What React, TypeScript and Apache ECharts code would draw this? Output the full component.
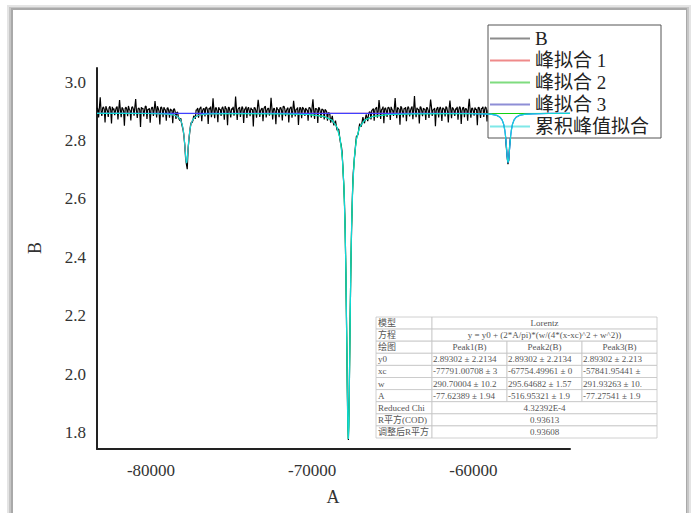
import React, { useEffect, useRef } from 'react';
import * as echarts from 'echarts';

// ---- raw data (B vs A): bValues at xStart + i*xStep, bMidValues half a step later ----
const xStart = -83350;
const xStep = 100;
const bValues = [
  2.912, 2.879, 2.948, 2.884, 2.915, 2.862, 2.909, 2.881, 2.917, 2.858,
  2.905, 2.887, 2.913, 2.872, 2.938, 2.880, 2.910, 2.851, 2.914, 2.883,
  2.907, 2.869, 2.916, 2.885, 2.942, 2.877, 2.911, 2.846, 2.908, 2.882,
  2.918, 2.874, 2.906, 2.861, 2.913, 2.884, 2.935, 2.879, 2.910, 2.855,
  2.915, 2.880, 2.908, 2.868, 2.912, 2.878, 2.904, 2.859, 2.909, 2.874,
  2.897, 2.872, 2.876, 2.846, 2.812, 2.738, 2.702, 2.800, 2.851, 2.861,
  2.884, 2.874, 2.905, 2.878, 2.911, 2.866, 2.909, 2.882, 2.914, 2.857,
  2.908, 2.880, 2.944, 2.876, 2.912, 2.863, 2.906, 2.884, 2.915, 2.871,
  2.910, 2.852, 2.913, 2.879, 2.907, 2.885, 2.950, 2.870, 2.911, 2.881,
  2.916, 2.860, 2.909, 2.877, 2.914, 2.883, 2.906, 2.848, 2.912, 2.878,
  2.939, 2.881, 2.908, 2.866, 2.915, 2.879, 2.910, 2.885, 2.946, 2.872,
  2.911, 2.856, 2.907, 2.880, 2.913, 2.869, 2.917, 2.883, 2.909, 2.862,
  2.912, 2.878, 2.936, 2.882, 2.908, 2.853, 2.914, 2.876, 2.910, 2.884,
  2.905, 2.868, 2.913, 2.879, 2.941, 2.874, 2.909, 2.860, 2.911, 2.877,
  2.906, 2.872, 2.903, 2.868, 2.895, 2.861, 2.884, 2.852, 2.868, 2.835,
  2.838, 2.794, 2.765, 2.662, 2.495, 2.098, 1.776, 2.160, 2.502, 2.690,
  2.755, 2.815, 2.822, 2.858, 2.848, 2.880, 2.859, 2.889, 2.866, 2.898,
  2.872, 2.905, 2.868, 2.910, 2.878, 2.938, 2.874, 2.908, 2.859, 2.912,
  2.881, 2.914, 2.870, 2.907, 2.884, 2.945, 2.876, 2.910, 2.854, 2.913,
  2.879, 2.909, 2.866, 2.916, 2.882, 2.911, 2.873, 2.952, 2.880, 2.907,
  2.858, 2.914, 2.883, 2.908, 2.870, 2.912, 2.877, 2.940, 2.884, 2.906,
  2.849, 2.911, 2.879, 2.915, 2.867, 2.909, 2.882, 2.913, 2.862, 2.937,
  2.876, 2.910, 2.884, 2.907, 2.871, 2.916, 2.857, 2.912, 2.880, 2.909,
  2.868, 2.943, 2.878, 2.911, 2.885, 2.906, 2.852, 2.914, 2.877, 2.910,
  2.881, 2.915, 2.865, 2.908, 2.879, 2.912, 2.870, 2.905, 2.874, 2.898,
  2.871, 2.880, 2.852, 2.841, 2.776, 2.719, 2.779, 2.826, 2.866, 2.864,
  2.889, 2.872, 2.910, 2.866, 2.913, 2.880, 2.907, 2.858, 2.911, 2.883,
  2.916, 2.869, 2.909, 2.877, 2.939, 2.882, 2.908, 2.861, 2.912, 2.879,
  2.906, 2.873, 2.914, 2.884, 2.910, 2.856, 2.913, 2.878, 2.907, 2.867,
  2.911, 2.881, 2.909, 2.876,
];
const bMidValues = [
  2.908, 2.914, 2.903, 2.911, 2.906, 2.917, 2.901, 2.912, 2.905, 2.915,
  2.909, 2.902, 2.916, 2.907, 2.904, 2.913, 2.900, 2.910, 2.906, 2.918,
  2.903, 2.912, 2.908, 2.915, 2.901, 2.909, 2.905, 2.914, 2.911, 2.902,
  2.916, 2.907, 2.910, 2.904, 2.913, 2.906, 2.909, 2.917, 2.900, 2.912,
  2.905, 2.914, 2.903, 2.910, 2.901, 2.908, 2.904, 2.906, 2.899, 2.896,
  2.880, 2.868, 2.858, 2.834, 2.781, 2.718, 2.768, 2.826, 2.862, 2.868,
  2.883, 2.904, 2.911, 2.906, 2.915, 2.902, 2.909, 2.913, 2.905, 2.910,
  2.916, 2.903, 2.908, 2.912, 2.901, 2.914, 2.907, 2.910, 2.904, 2.917,
  2.906, 2.913, 2.900, 2.909, 2.915, 2.903, 2.911, 2.907, 2.914, 2.902,
  2.910, 2.905, 2.916, 2.908, 2.901, 2.912, 2.906, 2.913, 2.904, 2.909,
  2.915, 2.902, 2.911, 2.907, 2.917, 2.903, 2.910, 2.905, 2.913, 2.908,
  2.900, 2.914, 2.906, 2.911, 2.904, 2.916, 2.909, 2.902, 2.912, 2.907,
  2.915, 2.903, 2.910, 2.906, 2.913, 2.901, 2.908, 2.914, 2.905, 2.911,
  2.904, 2.912, 2.907, 2.915, 2.902, 2.909, 2.906, 2.913, 2.900, 2.908,
  2.903, 2.906, 2.898, 2.895, 2.889, 2.872, 2.864, 2.861, 2.849, 2.839,
  2.815, 2.786, 2.718, 2.600, 2.322, 1.872, 1.918, 2.358, 2.615, 2.725,
  2.789, 2.815, 2.842, 2.849, 2.864, 2.866, 2.875, 2.879, 2.890, 2.897,
  2.903, 2.909, 2.906, 2.914, 2.901, 2.911, 2.905, 2.916, 2.908, 2.902,
  2.912, 2.907, 2.915, 2.903, 2.910, 2.904, 2.913, 2.906, 2.917, 2.900,
  2.909, 2.914, 2.905, 2.911, 2.902, 2.916, 2.908, 2.904, 2.912, 2.907,
  2.915, 2.901, 2.910, 2.906, 2.913, 2.903, 2.909, 2.917, 2.905, 2.911,
  2.902, 2.914, 2.908, 2.904, 2.912, 2.906, 2.916, 2.900, 2.910, 2.907,
  2.913, 2.903, 2.909, 2.915, 2.905, 2.911, 2.902, 2.914, 2.908, 2.904,
  2.916, 2.906, 2.910, 2.901, 2.913, 2.907, 2.912, 2.903, 2.909, 2.915,
  2.905, 2.911, 2.902, 2.908, 2.914, 2.904, 2.906, 2.899, 2.895, 2.890,
  2.877, 2.866, 2.855, 2.812, 2.744, 2.733, 2.809, 2.845, 2.870, 2.873,
  2.884, 2.903, 2.910, 2.906, 2.914, 2.901, 2.912, 2.907, 2.915, 2.904,
  2.909, 2.913, 2.902, 2.911, 2.906, 2.916, 2.903, 2.910, 2.908, 2.914,
  2.900, 2.912, 2.905, 2.909, 2.915, 2.903, 2.911, 2.906, 2.913, 2.907,
  2.910, 2.904, 2.912,
];

// ---- fitted curves, sampled at offsets around each peak centre ----
const peakCenters = [-77791.00708, -67754.49961, -57841.95441];
const fitOffsets = [-4000, -2500, -1500, -1000, -700, -500, -375, -275, -200, -150, -100, -60, -30, 0,
  30, 60, 100, 150, 200, 275, 375, 500, 700, 1000, 1500, 2500, 4000];
const peak1Fit = [2.8928, 2.8925, 2.8914, 2.8895, 2.8860, 2.8798, 2.8708, 2.8559, 2.8342, 2.8107, 2.7776, 2.7478, 2.7299, 2.7230,
  2.7299, 2.7478, 2.7776, 2.8107, 2.8342, 2.8559, 2.8708, 2.8798, 2.8860, 2.8895, 2.8914, 2.8925, 2.8928];
const peak2Fit = [2.8915, 2.8891, 2.8823, 2.8692, 2.8455, 2.8035, 2.7433, 2.6435, 2.4997, 2.3445, 2.1293, 1.9373, 1.8239, 1.7798,
  1.8239, 1.9373, 2.1293, 2.3445, 2.4997, 2.6435, 2.7433, 2.8035, 2.8455, 2.8692, 2.8823, 2.8891, 2.8915];
const peak3Fit = [2.8928, 2.8925, 2.8914, 2.8895, 2.8860, 2.8798, 2.8708, 2.8560, 2.8344, 2.8110, 2.7783, 2.7488, 2.7313, 2.7245,
  2.7313, 2.7488, 2.7783, 2.8110, 2.8344, 2.8560, 2.8708, 2.8798, 2.8860, 2.8895, 2.8914, 2.8925, 2.8928];
const cumFit1 = [2.8927, 2.8924, 2.8912, 2.8893, 2.8857, 2.8795, 2.8706, 2.8557, 2.8340, 2.8105, 2.7774, 2.7476, 2.7297, 2.7228,
  2.7297, 2.7476, 2.7774, 2.8105, 2.8339, 2.8556, 2.8705, 2.8794, 2.8856, 2.8891, 2.8911, 2.8921, 2.8921];
const cumFit2 = [2.8914, 2.8890, 2.8822, 2.8691, 2.8454, 2.8034, 2.7432, 2.6434, 2.4996, 2.3444, 2.1292, 1.9372, 1.8238, 1.7797,
  1.8238, 1.9372, 2.1292, 2.3444, 2.4996, 2.6434, 2.7432, 2.8034, 2.8454, 2.8691, 2.8822, 2.8890, 2.8914];
const cumFit3 = [2.8921, 2.8921, 2.8911, 2.8891, 2.8857, 2.8795, 2.8705, 2.8557, 2.8341, 2.8107, 2.7780, 2.7485, 2.7310, 2.7242,
  2.7310, 2.7485, 2.7781, 2.8108, 2.8342, 2.8558, 2.8706, 2.8796, 2.8858, 2.8893, 2.8912, 2.8924, 2.8927];
const fitEnds = [[2.8930, 2.8930], [2.8929, 2.8929], [2.8930, 2.8928], [2.8928, 2.8926]];

// ---- axes ----
const xMin = -83350;
const xMax = -54000;
const yMin = 1.745;
const yMax = 3.048;
const xTicks = [-80000, -70000, -60000];
const yTicks = [1.8, 2.0, 2.2, 2.4, 2.6, 2.8, 3.0];

// ---- legend ----
const seriesNames = ['B', '峰拟合 1', '峰拟合 2', '峰拟合 3', '累积峰值拟合'];
const seriesColors = ['#000000', '#ff2020', '#10d010', '#4040ff', '#10d8d8'];
const legendColors = ['#8c8c8c', '#ef8a8a', '#7fdc7f', '#8e8ed6', '#7fe8e8'];

// ---- fit result table ----
const tableLabels = ['模型', '方程', '绘图', 'y0', 'xc', 'w', 'A', 'Reduced Chi', 'R平方(COD)', '调整后R平方'];
const tableMerged: Record<number, string> = {
  0: 'Lorentz',
  1: 'y = y0 + (2*A/pi)*(w/(4*(x-xc)^2 + w^2))',
  7: '4.32392E-4',
  8: '0.93613',
  9: '0.93608',
};
const tablePeakHeaders = ['Peak1(B)', 'Peak2(B)', 'Peak3(B)'];
const tableY0 = ['2.89302 ± 2.2134', '2.89302 ± 2.2134', '2.89302 ± 2.213'];
const tableXc = ['-77791.00708 ± 3', '-67754.49961 ± 0', '-57841.95441 ±'];
const tableW = ['290.70004 ± 10.2', '295.64682 ± 1.57', '291.93263 ± 10.'];
const tableA = ['-77.62389 ± 1.94', '-516.95321 ± 1.9', '-77.27541 ± 1.9'];

const SERIF = 'Liberation Serif, Noto Sans CJK SC, serif';

function peakPoints(center: number, values: number[]) {
  return fitOffsets
    .map((o, i) => [center + o, values[i]])
    .filter((p) => p[0] > xMin && p[0] < xMax);
}

function buildTable() {
  const TL = 376, TT = 317, RH = 12.1;
  const CW = [56, 75, 75, 75];
  const els: any[] = [];
  const font = `9px ${SERIF}`;
  const txt = (x: number, y: number, text: string, align: string, width?: number) => ({
    type: 'text', x, y, z: 20,
    style: {
      text, fill: '#555', font, align, textAlign: align, verticalAlign: 'middle', textVerticalAlign: 'middle',
      ...(width ? { width, overflow: 'truncate', ellipsis: '' } : {}),
    },
  });
  const cell = (x: number, y: number, w: number) => ({
    type: 'rect', z: 19, shape: { x, y, width: w, height: RH },
    style: { fill: '#fff', stroke: '#c4c4c4', lineWidth: 0.8 },
  });
  const peakRows: Record<number, string[]> = { 3: tableY0, 4: tableXc, 5: tableW, 6: tableA };
  tableLabels.forEach((label, r) => {
    const y = TT + r * RH;
    els.push(cell(TL, y, CW[0]));
    els.push(txt(TL + 2, y + RH / 2, label, 'left', CW[0] - 2));
    const x1 = TL + CW[0];
    if (tableMerged[r] !== undefined) {
      const w = CW[1] + CW[2] + CW[3];
      els.push(cell(x1, y, w));
      els.push(txt(x1 + w / 2, y + RH / 2, tableMerged[r], 'center'));
    } else {
      let cx = x1;
      for (let c = 0; c < 3; c++) {
        const w = CW[c + 1];
        els.push(cell(cx, y, w));
        if (r === 2) els.push(txt(cx + w / 2, y + RH / 2, tablePeakHeaders[c], 'center'));
        else els.push(txt(cx + 1, y + RH / 2, peakRows[r][c], 'left', w - 1));
        cx += w;
      }
    }
  });
  return els;
}

export default function App() {
  const ref = useRef<HTMLDivElement>(null);
  useEffect(() => {
    const chart = echarts.init(ref.current!, null, { renderer: 'svg' });
    const bData: number[][] = [];
    bValues.forEach((v, i) => {
      bData.push([xStart + i * xStep, v]);
      if (i < bMidValues.length) bData.push([xStart + xStep / 2 + i * xStep, bMidValues[i]]);
    });
    const fit = (k: number, values: number[]) => [
      [xMin, fitEnds[k][0]], ...peakPoints(peakCenters[k], values), [xMax, fitEnds[k][1]],
    ];
    const cumData = [
      [xMin, fitEnds[3][0]],
      ...peakPoints(peakCenters[0], cumFit1),
      ...peakPoints(peakCenters[1], cumFit2),
      ...peakPoints(peakCenters[2], cumFit3),
      [xMax, fitEnds[3][1]],
    ];
    const datas = [bData, fit(0, peak1Fit), fit(1, peak2Fit), fit(2, peak3Fit), cumData];
    const widths = [1.2, 1, 1, 1.2, 1.2];

    const frame = [
      { type: 'rect', z: -10, shape: { x: 7, y: 5, width: 684, height: 520 }, style: { fill: '#e4e4e4' } },
      { type: 'rect', z: -9, shape: { x: 9, y: 7, width: 680, height: 520 }, style: { fill: '#c6c6c6' } },
      { type: 'rect', z: -8, shape: { x: 11, y: 8, width: 676, height: 520 }, style: { fill: '#a9a9a9' } },
      { type: 'rect', z: -7, shape: { x: 13, y: 10, width: 673, height: 520 }, style: { fill: '#ffffff' } },
    ];

    const option: any = {
      animation: false,
      backgroundColor: '#ffffff',
      textStyle: { fontFamily: SERIF },
      grid: { left: 97, right: 123, top: 68, bottom: 64, containLabel: false },
      xAxis: {
        type: 'value', min: xMin, max: xMax,
        axisLine: { show: true, onZero: false, lineStyle: { color: '#222', width: 2 } },
        axisTick: { show: false },
        splitLine: { show: false },
        axisLabel: {
          customValues: xTicks, margin: 13, fontSize: 17, color: '#333', fontFamily: SERIF,
          formatter: (v: number) => String(v),
        },
      },
      yAxis: {
        type: 'value', min: yMin, max: yMax,
        axisLine: { show: true, onZero: false, lineStyle: { color: '#222', width: 2 } },
        axisTick: { show: false },
        splitLine: { show: false },
        axisLabel: {
          customValues: yTicks, margin: 11, fontSize: 17, color: '#333', fontFamily: SERIF,
          formatter: (v: number) => v.toFixed(1),
        },
      },
      legend: {
        orient: 'vertical', left: 488, top: 25,
        itemWidth: 40, itemHeight: 2, itemGap: 3, icon: 'rect',
        padding: [4, 12, 2, 2],
        backgroundColor: '#ffffff', borderColor: '#555', borderWidth: 1,
        selectedMode: false,
        textStyle: { fontSize: 19, fontFamily: SERIF, color: '#222' },
        data: seriesNames.map((n, i) => ({ name: n, itemStyle: { color: legendColors[i] } })),
      },
      series: seriesNames.map((n, i) => ({
        name: n, type: 'line', data: datas[i], symbol: 'none', showSymbol: false,
        silent: true, z: 2 + i,
        itemStyle: { color: seriesColors[i] },
        lineStyle: { color: seriesColors[i], width: widths[i] },
      })),
      graphic: [
        ...frame,
        { type: 'text', x: 333, y: 497, z: 20, style: { text: 'A', font: `18px ${SERIF}`, fill: '#333', align: 'center', textAlign: 'center', verticalAlign: 'middle', textVerticalAlign: 'middle' } },
        { type: 'text', x: 35, y: 248, rotation: Math.PI / 2, z: 20, style: { text: 'B', font: `18px ${SERIF}`, fill: '#333', align: 'center', textAlign: 'center', verticalAlign: 'middle', textVerticalAlign: 'middle' } },
        ...buildTable(),
      ],
    };
    chart.setOption(option);
    return () => chart.dispose();
  }, []);
  return (
    <div
      ref={ref}
      style={{ position: 'fixed', left: 0, top: 0, width: 693, height: 513, background: '#fff' }}
    />
  );
}
